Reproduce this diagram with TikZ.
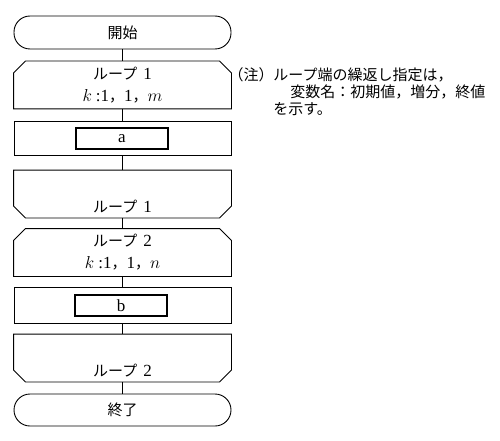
\documentclass[tikz,border=0pt]{standalone}
\usepackage{fontspec}
\setmainfont{Liberation Serif}
\newfontfamily\jp{Noto Sans CJK JP}
\newcommand\kana[1]{{\fontsize{15}{18}\selectfont\jp #1}}
\begin{document}
\begin{tikzpicture}[x=1pt,y=-1pt,line width=0.9pt,
  term/.style={draw,rounded corners=16pt,minimum width=217pt,minimum height=33pt,inner sep=0pt,font=\fontsize{15}{18}\selectfont\jp},
  loopbox/.style={minimum width=217pt,minimum height=47pt,inner sep=0pt,align=center,font=\fontsize{17}{22}\selectfont},
  proc/.style={draw,minimum width=217pt,minimum height=34pt,inner sep=0pt},
  inbox/.style={draw,line width=1.6pt,minimum width=92pt,minimum height=21pt,inner sep=0pt,font=\fontsize{17}{18}\selectfont},
  note/.style={anchor=west,inner sep=0pt,font=\fontsize{15}{18}\selectfont\jp}]
\useasboundingbox (0,0) rectangle (500,441);
% flowchart
\node[term] (start) at (122.5,32.5) {開始};
\node[loopbox] (ls1) at (122.5,85) {\kana{ループ}\hspace{6pt}1\\$k$\hspace{4pt}:1\kana{，}1\kana{，}$m$};
\node[proc] (pa) at (122.5,138) {};
\node[inbox] (a) at (122,138.5) {a};
\node[loopbox] (le1) at (122.5,194) {\strut\\\kana{ループ}\hspace{6pt}1};
\node[loopbox] (ls2) at (122.5,252.5) {\kana{ループ}\hspace{6pt}2\\$k$\hspace{4pt}:1\kana{，}1\kana{，}$n$};
\node[proc,minimum height=36pt] (pb) at (122.5,305) {};
\node[inbox] (b) at (121,305.5) {b};
\node[loopbox] (le2) at (122.5,358) {\strut\\\kana{ループ}\hspace{6pt}2};
\node[term,minimum height=32pt] (stop) at (122.5,410) {終了};
\foreach \n in {ls1,ls2}
  \draw (\n.south west) -- ([yshift=-12pt]\n.north west) -- ([xshift=12pt]\n.north west) -- ([xshift=-12pt]\n.north east) -- ([yshift=-12pt]\n.north east) -- (\n.south east) -- cycle;
\foreach \n in {le1,le2}
  \draw (\n.north west) -- ([yshift=12pt]\n.south west) -- ([xshift=12pt]\n.south west) -- ([xshift=-12pt]\n.south east) -- ([yshift=12pt]\n.south east) -- (\n.north east) -- cycle;
\foreach \a/\b in {start/ls1,ls1/pa,pa/le1,le1/ls2,ls2/pb,pb/le2,le2/stop}
  \draw (\a.south) -- (\b.north);
% note
\node[note,anchor=east] (note0) at (274,75) {（注）};
\node[note] (note1) at (273,75) {ループ端の繰返し指定は，};
\node[note] (note2) at (290,92) {変数名：初期値，増分，終値};
\node[note] (note3) at (273,109) {を示す。};
\end{tikzpicture}
\end{document}
